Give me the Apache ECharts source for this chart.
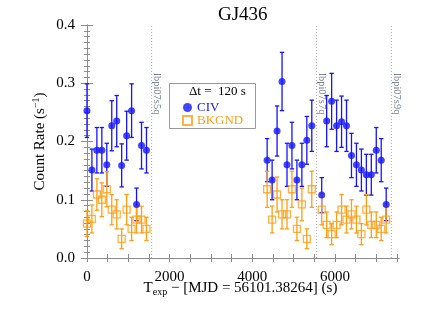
<!DOCTYPE html>
<html><head><meta charset="utf-8">
<script src="https://cdn.jsdelivr.net/npm/echarts@6/dist/echarts.min.js"></script>
<style>html,body{margin:0;padding:0;background:#fff}#c{width:423px;height:312px}</style>
</head><body><div id="c"></div>
<script>
// ---- data ----
const times1 = [0,120,240,360,480,600,720,840,960,1080,1200,1320,1440];
const times2 = [4360,4480,4600,4720,4840,4960,5080,5200,5320,5440];
const times3 = [5680,5800,5920,6040,6160,6280,6400,6520,6640,6760,6880,7000,7120,7240];

const civ1 = [0.253,0.151,0.185,0.185,0.160,0.227,0.235,0.159,0.210,0.253,0.092,0.193,0.185];
const civ2 = [0.168,0.134,0.218,0.303,0.160,0.193,0.134,0.160,0.202,0.227];
const civ3 = [0.108,0.235,0.269,0.227,0.234,0.227,0.176,0.160,0.151,0.143,0.143,0.185,0.168,0.092];

const civErr1 = [0.046,0.036,0.039,0.039,0.037,0.043,0.044,0.037,0.042,0.046,0.028,0.040,0.039];
const civErr2 = [0.037,0.034,0.043,0.050,0.037,0.040,0.034,0.037,0.041,0.044];
const civErr3 = [0.030,0.044,0.048,0.044,0.044,0.044,0.038,0.037,0.036,0.035,0.035,0.039,0.037,0.028];

const bkg1 = [0.059,0.067,0.109,0.100,0.118,0.083,0.075,0.033,0.083,0.050,0.066,0.066,0.050];
const bkg2 = [0.118,0.066,0.109,0.075,0.075,0.118,0.050,0.092,0.033,0.118];
const bkg3 = [0.083,0.057,0.041,0.057,0.083,0.066,0.075,0.066,0.041,0.083,0.057,0.057,0.050,0.066];

const bkgErr1 = [0.022,0.024,0.027,0.029,0.030,0.026,0.025,0.017,0.026,0.020,0.023,0.023,0.020];
const bkgErr2 = [0.031,0.023,0.030,0.025,0.025,0.031,0.020,0.028,0.017,0.031];
const bkgErr3 = [0.026,0.022,0.018,0.022,0.026,0.023,0.025,0.023,0.018,0.026,0.022,0.022,0.020,0.023];

const exposureNames = ['lbpi07s5q','lbpi07s7q','lbpi07s9q'];
const exposureEnds = [1565, 5555, 7365];

const xLabelValues = [0,2000,4000,6000];
const xTickValues = [0,500,1000,1500,2000,2500,3000,3500,4000,4500,5000,5500,6000,6500,7000,7500];

// ---- build ----
const FONT = '"Liberation Serif", "Times New Roman", serif';
const BLUE = 'rgb(20,20,255)';
const ORANGE = 'rgb(255,158,20)';
const AX = '#8c8c8c';

const times = times1.concat(times2, times3);
const civ = civ1.concat(civ2, civ3);
const civErr = civErr1.concat(civErr2, civErr3);
const bkg = bkg1.concat(bkg2, bkg3);
const bkgErr = bkgErr1.concat(bkgErr2, bkgErr3);

const civData = times.map((t,i)=>[t, civ[i], civErr[i]]);
const bkgData = times.map((t,i)=>[t, bkg[i], bkgErr[i]]);

function errSeries(data, color){
  return {
    type:'custom', silent:true, data, encode:{x:0,y:1},
    renderItem(params, api){
      const x=api.value(0), y=api.value(1), e=api.value(2);
      const top=api.coord([x,y+e]), bot=api.coord([x,y-e]);
      const hw=2.2;
      const style={stroke:color, lineWidth:1.3, fill:null};
      return {type:'group', children:[
        {type:'line', shape:{x1:top[0],y1:top[1],x2:bot[0],y2:bot[1]}, style},
        {type:'line', shape:{x1:top[0]-hw,y1:top[1],x2:top[0]+hw,y2:top[1]}, style},
        {type:'line', shape:{x1:bot[0]-hw,y1:bot[1],x2:bot[0]+hw,y2:bot[1]}, style}
      ]};
    }
  };
}

const chart = echarts.init(document.getElementById('c'), null, {renderer:'canvas'});
const axisLine = {show:true, lineStyle:{color:AX, width:1}};
const tickStyle = {color:AX, width:1};

chart.setOption({
  animation:false,
  backgroundColor:'#fff',
  title:{text:'GJ436', left:213, top:1, textStyle:{fontFamily:FONT, fontSize:19, fontWeight:'normal', color:'#000'}},
  grid:{left:82, right:24, top:25, bottom:54, containLabel:false, outerBoundsMode:'none'},
  legend:{
    orient:'vertical', left:177, top:96, itemWidth:9, itemHeight:9, itemGap:0,
    textStyle:{fontFamily:FONT, fontSize:13, lineHeight:12},
    data:[
      {name:'CIV', icon:'circle', textStyle:{color:BLUE}},
      {name:'BKGND', icon:'rect', textStyle:{color:ORANGE}}
    ]
  },
  graphic:[
    {type:'rect', left:169, top:83, shape:{width:86, height:45}, style:{fill:'#fff', stroke:'#999', lineWidth:1}, z:-1},
    {type:'text', left:189, top:85, style:{text:'Δt =  120 s', font:'13px ' + FONT, fill:'#000'}}
  ],
  xAxis:[
    {type:'value', position:'bottom', min:-120, max:7550,
     axisLine, splitLine:{show:false},
     axisTick:{show:true, inside:true, length:4, customValues:xTickValues, lineStyle:tickStyle},
     axisLabel:{customValues:xLabelValues, formatter:v=>String(v), fontFamily:FONT, fontSize:15, color:'#000', margin:12},
     name:'{a|T}{sub|exp}{a| − [MJD = 56101.38264] (s)}', nameLocation:'middle', nameGap:21, nameMoveOverlap:false,
     nameTextStyle:{rich:{
       a:{fontFamily:FONT, fontSize:15, color:'#000', lineHeight:18},
       sub:{fontFamily:FONT, fontSize:10, color:'#000', verticalAlign:'bottom', lineHeight:18}
     }}},
    {type:'value', position:'top', min:-120, max:7550,
     axisLine, splitLine:{show:false},
     axisTick:{show:true, inside:true, length:4, customValues:xTickValues, lineStyle:tickStyle},
     axisLabel:{show:false}}
  ],
  yAxis:[
    {type:'value', position:'left', min:0, max:0.4, interval:0.1,
     axisLine, splitLine:{show:false},
     axisTick:{show:true, inside:true, length:6, lineStyle:tickStyle},
     minorTick:{show:true, splitNumber:10, length:3, lineStyle:tickStyle},
     axisLabel:{formatter:v=>v.toFixed(1), fontFamily:FONT, fontSize:15, color:'#000', margin:7},
     name:'{a|Count Rate (s}{sup|−1}{a|)}', nameLocation:'middle', nameGap:33, nameMoveOverlap:false,
     nameTextStyle:{rich:{
       a:{fontFamily:FONT, fontSize:15, color:'#000', lineHeight:18},
       sup:{fontFamily:FONT, fontSize:10, color:'#000', verticalAlign:'top', lineHeight:18}
     }}},
    {type:'value', position:'right', min:0, max:0.4, interval:0.1,
     axisLine, splitLine:{show:false},
     axisTick:{show:true, inside:true, length:6, lineStyle:tickStyle},
     minorTick:{show:true, splitNumber:10, length:3, lineStyle:tickStyle},
     axisLabel:{show:false}}
  ],
  series:[
    {
      type:'custom', silent:true, data:exposureEnds.map(v=>[v]), encode:{x:0},
      renderItem(params, api){
        const x=api.value(0);
        const b=api.coord([x,0]), t=api.coord([x,0.4]);
        const m=api.coord([x,0.282]);
        return {type:'group', children:[
          {type:'line', shape:{x1:b[0],y1:b[1],x2:t[0],y2:t[1]}, style:{stroke:'#a9adb3', lineWidth:1, lineDash:[1,2]}},
          {type:'text', x:m[0]+5.5, y:m[1], rotation:-Math.PI/2,
           style:{text:exposureNames[params.dataIndex], font:'10.5px ' + FONT, fill:'#7c8694', align:'center', verticalAlign:'middle'}}
        ]};
      }
    },
    errSeries(civData, BLUE),
    {name:'CIV', type:'scatter', data:civData, symbol:'circle', symbolSize:7,
     itemStyle:{color:BLUE}},
    errSeries(bkgData, ORANGE),
    {name:'BKGND', type:'scatter', data:bkgData, symbol:'rect', symbolSize:7,
     itemStyle:{color:'rgba(255,255,255,0)', borderColor:ORANGE, borderWidth:1.3}}
  ]
});
</script></body></html>
